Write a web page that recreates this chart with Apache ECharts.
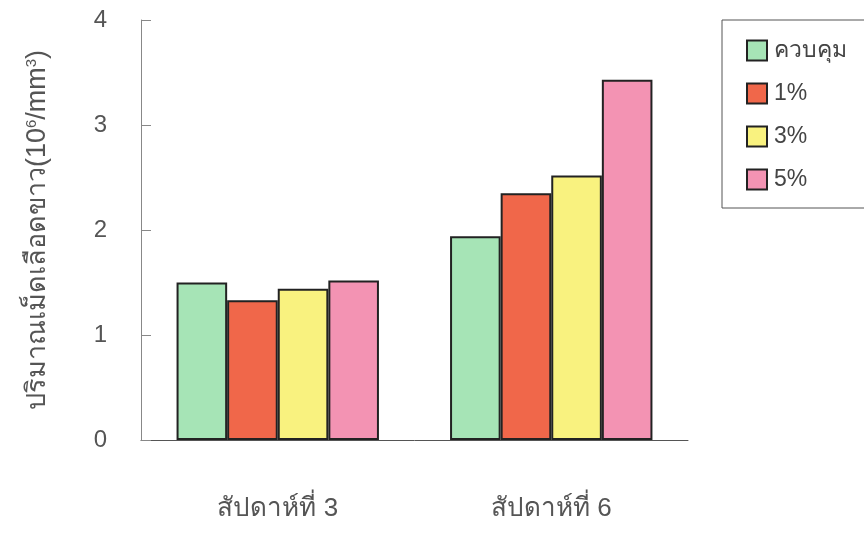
<!DOCTYPE html>
<html>
<head>
<meta charset="utf-8">
<script src="https://cdn.jsdelivr.net/npm/echarts@6/dist/echarts.min.js"></script>
<style>
  html, body { margin: 0; padding: 0; background: #fff; }
  #main { width: 864px; height: 536px; }
</style>
</head>
<body>
<div id="main"></div>
<script>
// weeks on the x axis
const weeks = ['สัปดาห์ที่ 3', 'สัปดาห์ที่ 6'];
// one series per treatment
const seriesNames = ['ควบคุม', '1%', '3%', '5%'];
const control = [1.50, 1.94];
const pct1 = [1.33, 2.35];
const pct3 = [1.44, 2.52];
const pct5 = [1.52, 3.43];
const yTicks = [0, 1, 2, 3, 4];

const colors = ['#a6e4b6', '#f0674a', '#f9f27f', '#f393b3'];
const values = [control, pct1, pct3, pct5];

const chart = echarts.init(document.getElementById('main'));

const option = {
  backgroundColor: '#fff',
  animation: false,
  textStyle: { fontFamily: 'sans-serif' },
  grid: { left: 141, right: 176, top: 20, bottom: 96 },
  legend: {
    orient: 'vertical',
    left: 722,
    top: 20,
    padding: [19, 30, 17, 24],
    itemGap: 20,
    itemWidth: 20,
    itemHeight: 20,
    borderColor: '#555',
    borderWidth: 1,
    borderRadius: 0,
    icon: 'rect',
    data: seriesNames,
    textStyle: { fontSize: 23, color: '#444', padding: [0, 0, 0, 2] }
  },
  xAxis: {
    type: 'category',
    data: weeks,
    axisLine: { lineStyle: { color: '#555', width: 1 } },
    axisTick: { inside: true, length: 17, lineStyle: { color: '#666' } },
    axisLabel: { margin: 56, fontSize: 26, color: '#555' }
  },
  yAxis: {
    type: 'value',
    min: 0,
    max: yTicks[yTicks.length - 1],
    interval: 1,
    splitLine: { show: false },
    axisLine: { show: true, lineStyle: { color: '#888', width: 1 } },
    axisTick: { show: true, inside: true, length: 10, lineStyle: { color: '#888' } },
    axisLabel: { margin: 34, fontSize: 24, color: '#555' },
    name: '{a|ปริมาณเม็ดเลือดขาว(10}{s|6}{a|/mm}{s|3}{a|)}',
    nameLocation: 'middle',
    nameGap: 90,
    nameRotate: 90,
    nameTextStyle: {
      rich: {
        a: { fontSize: 27, color: '#555', verticalAlign: 'bottom' },
        s: { fontSize: 15, color: '#555', verticalAlign: 'top' }
      }
    }
  },
  series: seriesNames.map((name, i) => ({
    name: name,
    type: 'bar',
    data: values[i],
    barGap: '0%',
    barCategoryGap: '26%',
    itemStyle: { color: colors[i], borderColor: '#222', borderWidth: 2 }
  }))
};

chart.setOption(option);
</script>
</body>
</html>
